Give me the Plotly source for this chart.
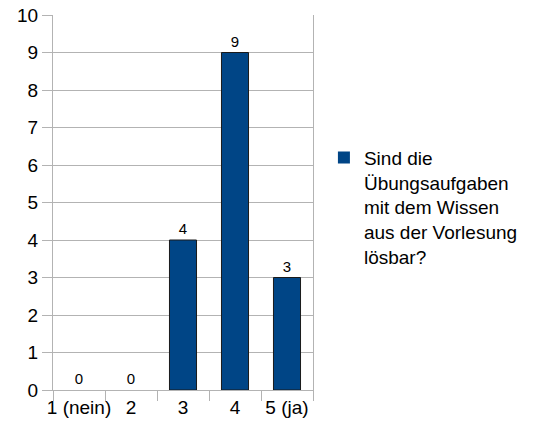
import plotly.graph_objects as go

categories = ["1 (nein)", "2", "3", "4", "5 (ja)"]
counts = [0, 0, 4, 9, 3]
series_name = "Sind die<br>Übungsaufgaben<br>mit dem Wissen<br>aus der Vorlesung<br>lösbar?"

grey = "#b3b3b3"

fig = go.Figure()
fig.add_trace(go.Bar(
    x=categories,
    y=counts,
    name=series_name,
    marker=dict(color="#004586",
                line=dict(color="#1a1a1a", width=[1 if c > 0 else 0 for c in counts])),
    width=0.52,
    text=[str(c) for c in counts],
    textposition="outside",
    textfont=dict(size=15, color="#000000"),
    constraintext="none",
    cliponaxis=False,
    showlegend=True,
))

fig.update_layout(
    width=552, height=441,
    margin=dict(l=53, r=239, t=15, b=51, autoexpand=False),
    plot_bgcolor="white", paper_bgcolor="white",
    font=dict(family="Liberation Sans, Arial, sans-serif", size=19, color="#000000"),
    showlegend=True,
    legend=dict(x=1.042, y=0.67, xanchor="left", yanchor="top", valign="top",
                font=dict(size=19), itemwidth=30, bgcolor="rgba(0,0,0,0)"),
)
fig.update_xaxes(
    type="category", tickson="boundaries", ticks="outside", ticklen=10,
    tickcolor=grey, showgrid=False, showline=True, linecolor=grey, linewidth=1,
    tickangle=0, tickfont=dict(size=19), automargin=False,
)
fig.update_yaxes(
    range=[0, 10], dtick=1, ticks="outside", ticklen=10, tickcolor=grey,
    showgrid=True, gridcolor=grey, gridwidth=1, showline=True, linecolor=grey,
    mirror=True, zeroline=False, tickfont=dict(size=19), automargin=False,
    ticklabeloverflow="allow",
)

# drop the default page margin so the figure sits at the window's corner
fig.write_html("out.html", config={"displayModeBar": False},
               post_script="document.body.style.margin='0';")
